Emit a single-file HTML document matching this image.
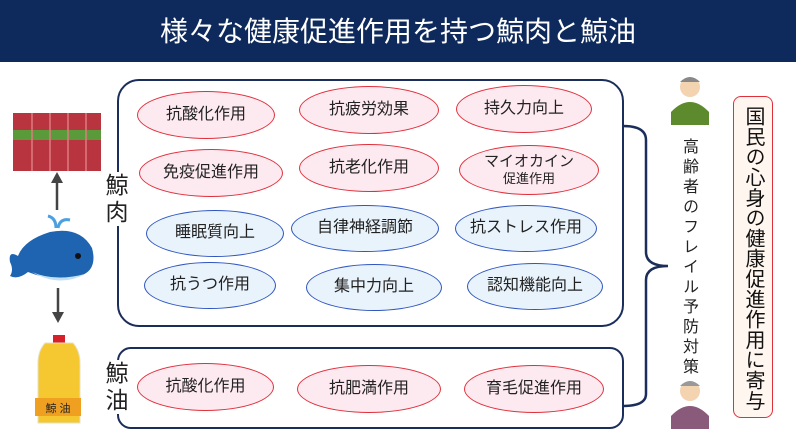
<!DOCTYPE html>
<html><head><meta charset="utf-8"><style>
body{margin:0;width:796px;height:444px;background:#fff;position:relative;overflow:hidden;font-family:"Liberation Sans","Noto Sans CJK JP",sans-serif;}
.t{position:absolute;left:0;top:0;width:796px;height:62px;background:#0e2a5c;color:#fff;font-size:28px;text-align:center;line-height:64px;}
.box{position:absolute;border:2px solid #1b2d5a;border-radius:22px;background:#fff;}
.e{position:absolute;border-radius:50%;display:flex;align-items:center;justify-content:center;font-size:16px;color:#222;text-align:center;line-height:1.15;}
.p{background:#fde9f0;border:1.5px solid #e0303c;}
.b{background:#e8f3fc;border:1.5px solid #2f55c0;}
.lab{position:absolute;font-size:23px;line-height:27px;width:26px;background:#fff;text-align:center;color:#222;}
.v{position:absolute;writing-mode:vertical-rl;color:#222;}
</style></head><body>
<div class="t">様々な健康促進作用を持つ鯨肉と鯨油</div>

<div class="box" style="left:117px;top:79px;width:503px;height:244px"></div>
<div class="box" style="left:117px;top:347px;width:503px;height:78px;border-radius:14px"></div>
<div class="lab" style="left:104px;top:172px">鯨<br>肉</div>
<div class="lab" style="left:104px;top:360px">鯨<br>油</div>

<div class="e p" style="left:137px;top:91px;width:136px;height:46px">抗酸化作用</div>
<div class="e p" style="left:299px;top:86px;width:138px;height:46px">抗疲労効果</div>
<div class="e p" style="left:456px;top:85px;width:134px;height:46px">持久力向上</div>
<div class="e p" style="left:139px;top:149px;width:142px;height:46px">免疫促進作用</div>
<div class="e p" style="left:299px;top:144px;width:138px;height:46px">抗老化作用</div>
<div class="e p" style="left:459px;top:145px;width:138px;height:48px;font-size:15px"><div>マイオカイン<br><span style="font-size:13px">促進作用</span></div></div>
<div class="e b" style="left:146px;top:210px;width:136px;height:45px">睡眠質向上</div>
<div class="e b" style="left:291px;top:205px;width:146px;height:45px">自律神経調節</div>
<div class="e b" style="left:455px;top:205px;width:140px;height:45px">抗ストレス作用</div>
<div class="e b" style="left:144px;top:262px;width:130px;height:45px">抗うつ作用</div>
<div class="e b" style="left:306px;top:264px;width:134px;height:45px">集中力向上</div>
<div class="e b" style="left:467px;top:263px;width:134px;height:45px">認知機能向上</div>
<div class="e p" style="left:137px;top:363px;width:135px;height:46px">抗酸化作用</div>
<div class="e p" style="left:297px;top:365px;width:142px;height:46px">抗肥満作用</div>
<div class="e p" style="left:464px;top:365px;width:138px;height:46px">育毛促進作用</div>

<svg style="position:absolute;left:0;top:0" width="796" height="444">
<path d="M623 126 Q646 126 646 140 L646 252 Q646 266 668 266 Q646 266 646 280 L646 394 Q646 406 623 406" fill="none" stroke="#1b2d5a" stroke-width="2.5"/>
<rect x="13" y="113" width="88" height="58" fill="#b8343f"/>
<rect x="13" y="130" width="88" height="10" fill="#5a9a3a"/>
<path d="M32 113v58M50 113v58M68 113v58M86 113v58" stroke="#e07a80" stroke-width="1.5"/>
<line x1="57" y1="210" x2="57" y2="180" stroke="#444" stroke-width="2.5"/><path d="M51 183 L57 172 L63 183Z" fill="#444"/>
<line x1="58" y1="288" x2="58" y2="315" stroke="#444" stroke-width="2.5"/><path d="M52 312 L58 323 L64 312Z" fill="#444"/>
<path d="M10 262 Q8 250 18 256 Q24 240 50 232 Q80 226 92 248 Q98 270 80 276 Q52 282 28 272 Q18 280 10 276 Q14 270 10 262Z" fill="#1f64b0"/>
<path d="M32 272 Q55 282 85 274 Q60 288 32 272Z" fill="#bfe0f5"/>
<circle cx="78" cy="256" r="3" fill="#111"/>
<path d="M56 228 Q56 218 48 216 M58 228 Q60 218 70 220" stroke="#4aa0e0" stroke-width="3" fill="none"/>
<rect x="53" y="335" width="12" height="8" fill="#d8202a"/>
<path d="M45 343 h28 q7 8 7 20 v60 h-42 v-60 q0 -12 7 -20z" fill="#f5c832" stroke="#e8e0c0"/>
<rect x="35" y="398" width="46" height="18" fill="#f0a020"/>
<text x="58" y="412" font-size="11" text-anchor="middle" fill="#222">鯨 油</text>
<circle cx="690" cy="87" r="10" fill="#f3d3b0"/><path d="M680 82 q10 -10 20 0" fill="#888"/>
<path d="M671 112 q19 -20 38 0 v13 h-38z" fill="#5e8a2e"/>
<circle cx="690" cy="391" r="10" fill="#f3d3b0"/><path d="M680 386 q10 -10 20 0" fill="#999"/>
<path d="M671 416 q19 -20 38 0 v13 h-38z" fill="#8a5a7a"/>
</svg>

<div class="v" style="left:678px;top:138px;font-size:16px;letter-spacing:4px;line-height:20px">高齢者のフレイル予防対策</div>
<div style="position:absolute;left:733px;top:96px;width:38px;height:320px;border:1.5px solid #e0303c;border-radius:8px;background:#fff6f0"></div>
<div class="v" style="left:741px;top:106px;font-size:20px;line-height:24px;letter-spacing:0.3px;color:#111">国民の心身の健康促進作用に寄与</div>
</body></html>
